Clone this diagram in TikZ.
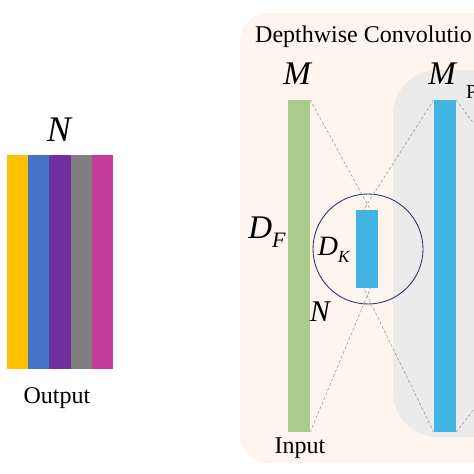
\documentclass[tikz,border=0pt]{standalone}
\usepackage{fontspec}
\setmainfont{Liberation Serif}
\definecolor{outyellow}{HTML}{FFC000}
\definecolor{outblue}{HTML}{4472C4}
\definecolor{outpurple}{HTML}{7030A0}
\definecolor{outgray}{HTML}{7F7F7F}
\definecolor{outpink}{HTML}{C43C9C}
\definecolor{ingreen}{HTML}{A9CB8B}
\definecolor{kernblue}{HTML}{41B4E3}
\definecolor{peachbg}{HTML}{FDF5EE}
\definecolor{graybg}{HTML}{EBEBEC}
\definecolor{lensline}{HTML}{2E3C6A}
\tikzset{
	bar/.style={draw=none, inner sep=0, minimum width=22, minimum height=332},
	outbar/.style={draw=none, inner sep=0, minimum width=21.2, minimum height=214},
	guide/.style={gray!75, line width=0.6pt, dash pattern=on 3pt off 2pt},
	symlab/.style={inner sep=0, font=\fontsize{33}{33}\selectfont\itshape},
	txtlab/.style={inner sep=0, font=\fontsize{24}{24}\selectfont},
}
\newcommand{\dimlab}[5]{\fontsize{#3}{#3}\selectfont\textit{#1}\raisebox{-#5pt}{\fontsize{#4}{#4}\selectfont\textit{#2}}}
\begin{document}
\begin{tikzpicture}[x=1pt, y=-1pt]
			\useasboundingbox (0,0) rectangle (474,474);
			\clip (0,0) rectangle (474,474);
			% backgrounds
			\fill[peachbg, rounded corners=28] (240,13) rectangle (560,463);
			\fill[graybg, rounded corners=45] (393,70) rectangle (560,437);
			% output
			\foreach \i\c in {1/outyellow,2/outblue,3/outpurple,4/outgray,5/outpink}{
				\node[outbar, fill=\c] (out\i) at (7+21.2*\i-10.6, 262) {};
			}
			\node[symlab, font=\fontsize{36}{36}\selectfont\itshape] (outn) at (59,130) {N};
			\node[txtlab, anchor=base] (outtxt) at (57,403) {Output};
			% depthwise
			\node[bar, fill=ingreen] (inbar) at (299,266) {};
			\node[bar, fill=kernblue] (midbar) at (445,266) {};
			\node[draw=none, inner sep=0, minimum width=22, minimum height=78, fill=kernblue] (kern) at (367,249) {};
			\node[circle, draw=lensline, line width=0.9pt, minimum size=110, inner sep=0] (lens) at (368,249) {};
			\coordinate (pwtop) at (500,159);
			\coordinate (pwbot) at (500,375);
			\draw[guide] (inbar.north east) -- (kern.85);
			\draw[guide] (midbar.north west) -- (kern.95);
			\draw[guide] (inbar.south east) -- (kern.-85);
			\draw[guide] (midbar.south west) -- (kern.-95);
			\draw[guide] (midbar.north east) -- (pwtop);
			\draw[guide] (midbar.south east) -- (pwbot);
			\node[symlab] (inm) at (297,74) {M};
			\node[symlab] (midm) at (442,74) {M};
			\node[inner sep=0] (df) at (267,232) {\dimlab{D}{F}{33}{22}{9}};
			\node[inner sep=0] (dk) at (334,250) {\dimlab{D}{K}{28}{17}{7}};
			\node[symlab, font=\fontsize{30}{30}\selectfont\itshape] (inn) at (320,312) {N};
			\node[txtlab, anchor=base] (intxt) at (300,453) {Input};
			\node[txtlab, anchor=base west] (dwtxt) at (255,42) {Depthwise Convolutio};
			\node[inner sep=0, anchor=base west, font=\fontsize{20}{20}\selectfont] (pwtxt) at (466,98) {P};
		\end{tikzpicture}
\end{document}
